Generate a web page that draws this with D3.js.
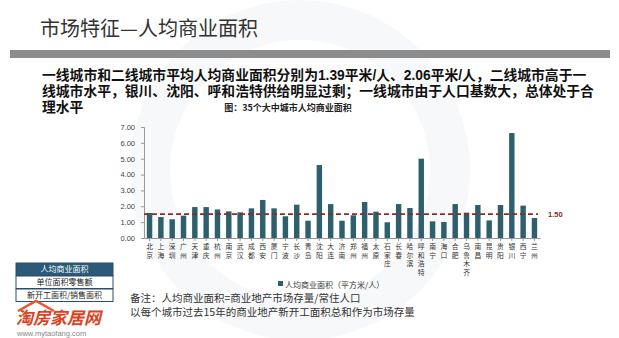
<!DOCTYPE html>
<html><head><meta charset="utf-8">
<script src="https://cdn.jsdelivr.net/npm/d3@7"></script>
<style>
html,body{margin:0;padding:0;background:#fff;}
svg{display:block;font-family:"Noto Sans CJK SC","Noto Sans",sans-serif;}
</style></head>
<body>
<svg id="c" width="619" height="338"></svg>
<script>
const cities = ["北京","上海","深圳","广州","天津","重庆","杭州","南京","武汉","成都","西安","厦门","宁波","长沙","青岛","沈阳","大连","济南","郑州","福州","太原","石家庄","长春","哈尔滨","呼和浩特","南宁","海口","合肥","乌鲁木齐","南昌","昆明","贵阳","银川","西宁","兰州"];
const values = [1.58,1.32,1.18,1.41,1.95,1.95,1.80,1.68,1.62,1.87,2.40,1.87,1.37,2.10,1.09,4.60,2.14,1.09,1.43,2.27,1.66,0.99,2.14,1.89,5.00,1.05,1.01,2.14,1.60,2.08,1.11,2.08,6.62,2.04,1.26];
const yTicks = [0,1,2,3,4,5,6,7];
const refValue = 1.50;
const title = "市场特征—人均商业面积";
const para = ["一线城市和二线城市平均人均商业面积分别为1.39平米/人、2.06平米/人，二线城市高于一","线城市水平，银川、沈阳、呼和浩特供给明显过剩；一线城市由于人口基数大，总体处于合","理水平"];
const chartTitle = "图：35个大中城市人均商业面积";
const legendLabel = "人均商业面积（平方米/人）";
const notes = ["备注：人均商业面积=商业地产市场存量/常住人口","以每个城市过去15年的商业地产新开工面积总和作为市场存量"];
const boxRows = ["人均商业面积","单位面积零售额","新开工面积/销售面积"];

const svg = d3.select("#c");

// faint background watermark
svg.append("circle").attr("cx",300).attr("cy",170).attr("r",150).attr("fill","none").attr("stroke","#f7f8f9").attr("stroke-width",40);

// Title
svg.append("text").attr("x",40).attr("y",36).attr("font-size",20).attr("fill","#333").text(title);
svg.append("rect").attr("x",10).attr("y",50).attr("width",600).attr("height",8).attr("fill","#8c8c8c");

// paragraph
para.forEach((t,i)=>{
  svg.append("text").attr("x",42).attr("y",80+i*16).attr("font-size",13.8).attr("font-weight","bold")
    .attr("font-family","'Liberation Sans','Noto Sans CJK SC',sans-serif").attr("fill","#111").text(t);
});
svg.append("text").attr("x",288).attr("y",111).attr("text-anchor","middle").attr("font-size",9).attr("font-weight","bold").attr("fill","#222").text(chartTitle);

// chart
const x = d3.scaleBand().domain(cities).range([144,540]).paddingInner(0.52).paddingOuter(0.25);
const y = d3.scaleLinear().domain([0,7]).range([238,127]);

const yAxis = d3.axisLeft(y).tickValues(yTicks).tickFormat(d3.format(".2f")).tickSize(3).tickPadding(6);
const ga = svg.append("g").attr("transform","translate(144,0)").call(yAxis);
ga.select(".domain").attr("stroke","#999");
ga.selectAll(".tick line").attr("stroke","#999");
ga.selectAll(".tick text").attr("font-size",7.5).attr("fill","#444").attr("font-family","Liberation Sans, sans-serif");

const xAxis = d3.axisBottom(x).tickSize(3).tickSizeOuter(0).tickFormat("");
const gx = svg.append("g").attr("transform","translate(0,238)").call(xAxis);
gx.select(".domain").attr("stroke","#999");
gx.selectAll(".tick line").attr("stroke","#999");

svg.append("g").selectAll("rect").data(values).join("rect")
  .attr("x",(d,i)=>x(cities[i])).attr("width",x.bandwidth())
  .attr("y",d=>y(d)).attr("height",d=>y(0)-y(d)).attr("fill","#2e5f6c");

// vertical labels (one character per line)
const lab = svg.append("g");
cities.forEach((c)=>{
  const cx = x(c)+x.bandwidth()/2;
  Array.from(c).forEach((ch,j)=>{
    lab.append("text").attr("x",cx).attr("y",249+j*8.6).attr("text-anchor","middle")
      .attr("font-size",6.8).attr("fill","#333").text(ch);
  });
});

// ref line
svg.append("line").attr("x1",144).attr("x2",538).attr("y1",y(refValue)).attr("y2",y(refValue))
  .attr("stroke","#8b2b2b").attr("stroke-width",1.8).attr("stroke-dasharray","5,3");
svg.append("text").attr("x",548).attr("y",y(refValue)+3).attr("font-size",7.5).attr("font-weight","bold").attr("fill","#8b2b2b").attr("font-family","Liberation Sans, sans-serif").text(d3.format(".2f")(refValue));

// legend
svg.append("rect").attr("x",278).attr("y",281).attr("width",5).attr("height",5).attr("fill","#2e5f6c");
svg.append("text").attr("x",285).attr("y",288).attr("font-size",8).attr("fill","#333").text(legendLabel);

// notes
notes.forEach((t,i)=>{
  svg.append("text").attr("x",130).attr("y",302+i*14).attr("font-size",10.5).attr("fill","#333").text(t);
});

// left box
const bx=16, bw=97, rh=12.5;
boxRows.forEach((t,i)=>{
  const yy = 263+i*(rh+0.5);
  svg.append("rect").attr("x",bx).attr("y",yy).attr("width",bw).attr("height",rh)
    .attr("fill", i===0?"#2b5a78":"#fff").attr("stroke","#2b4f6a").attr("stroke-width",1);
  svg.append("text").attr("x",bx+bw/2).attr("y",yy+9.3).attr("text-anchor","middle").attr("font-size",8)
    .attr("fill", i===0?"#fff":"#222").text(t);
});

// logo
svg.append("path").attr("d","M18,311 L36,301 L54,311").attr("fill","none").attr("stroke","#e8562a").attr("stroke-width",2.5);
svg.append("text").attr("x",16).attr("y",324).attr("font-size",17).attr("font-weight","bold").attr("font-style","italic").attr("fill","#d9431f").text("淘房家居网");
svg.append("text").attr("x",17).attr("y",336).attr("font-size",7.5).attr("fill","#888").attr("font-family","Liberation Sans, sans-serif").text("www.mytaofang.com");
</script>
</body></html>
